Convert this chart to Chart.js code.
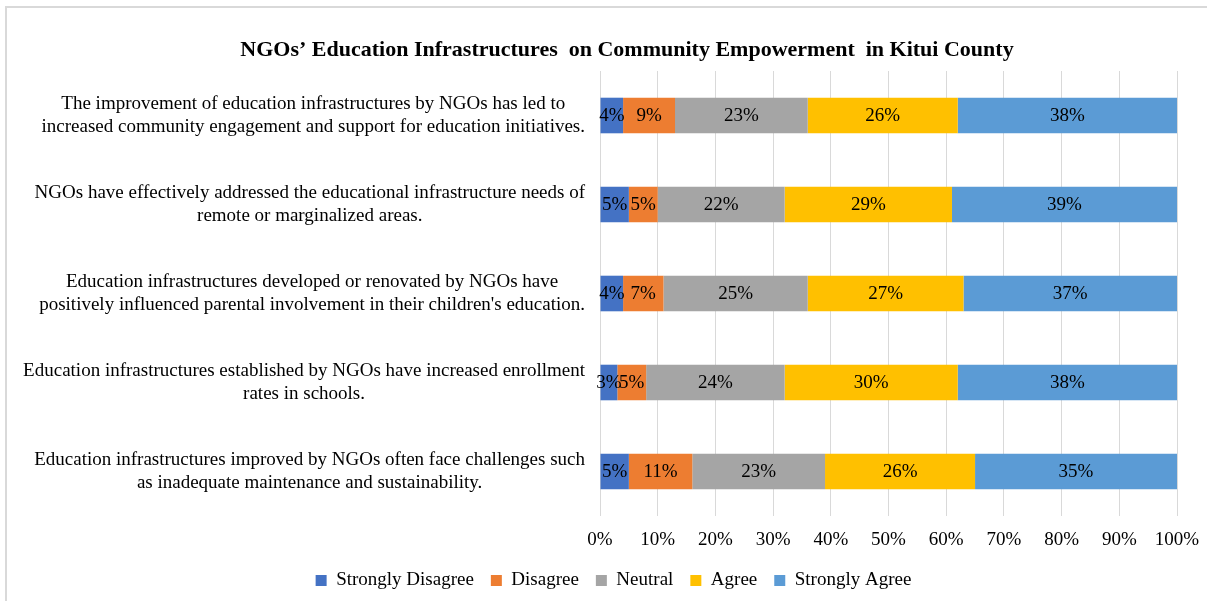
<!DOCTYPE html>
<html>
<head>
<meta charset="utf-8">
<script src="https://cdn.jsdelivr.net/npm/chart.js@4"></script>
<style>
  html, body { margin: 0; padding: 0; overflow: hidden; background: #fff; }
  #wrap { position: relative; width: 1207px; height: 601px; }
  #frame { position: absolute; left: 5px; top: 6px; width: 1220px; height: 620px; border: 2px solid #d9d9d9; box-sizing: border-box; pointer-events: none; }
</style>
</head>
<body>
<div id="wrap">
  <canvas id="chart" width="1207" height="601"></canvas>
  <div id="frame"></div>
</div>
<script>
const chartTitle = "NGOs’ Education Infrastructures  on Community Empowerment  in Kitui County";
const categories = [
  ["The improvement of education infrastructures by NGOs has led to", "increased community engagement and support for education initiatives."],
  ["NGOs have effectively addressed the educational infrastructure needs of", "remote or marginalized areas."],
  ["Education infrastructures developed or renovated by NGOs have", "positively influenced parental involvement in their children's education."],
  ["Education infrastructures established by NGOs have increased enrollment", "rates in schools."],
  ["Education infrastructures improved by NGOs often face challenges such", "as inadequate maintenance and sustainability."]
];
const seriesNames = ["Strongly Disagree", "Disagree", "Neutral", "Agree", "Strongly Agree"];
const stronglyDisagree = [4, 5, 4, 3, 5];
const disagree = [9, 5, 7, 5, 11];
const neutral = [23, 22, 25, 24, 23];
const agree = [26, 29, 27, 30, 26];
const stronglyAgree = [38, 39, 37, 38, 35];
const tickValues = [0, 10, 20, 30, 40, 50, 60, 70, 80, 90, 100];

const colors = ["#4472C4", "#ED7D31", "#A5A5A5", "#FFC000", "#5B9BD5"];
const serif = "'Liberation Serif', 'Times New Roman', serif";

// title drawn by hand so it can sit a bit right of the box centre
const titlePlugin = {
  id: "titleText",
  afterDraw(chart) {
    const ctx = chart.ctx;
    ctx.save();
    ctx.font = "bold 22px " + serif;
    ctx.fillStyle = "#000";
    ctx.textAlign = "center";
    ctx.textBaseline = "middle";
    ctx.fillText(chartTitle, 627, 50);
    ctx.restore();
  }
};

// category labels: each block right aligned, its lines centred on the block
const yLabelPlugin = {
  id: "yLabels",
  afterDraw(chart) {
    const ctx = chart.ctx;
    const yScale = chart.scales.y;
    ctx.save();
    ctx.font = "19px " + serif;
    ctx.fillStyle = "#000";
    ctx.textAlign = "center";
    ctx.textBaseline = "middle";
    categories.forEach((lines, i) => {
      const y = yScale.getPixelForTick(i);
      const w = Math.max(...lines.map(l => ctx.measureText(l).width));
      const cx = 585 - w / 2;
      lines.forEach((l, j) => {
        ctx.fillText(l, cx, y + (j - (lines.length - 1) / 2) * 23);
      });
    });
    ctx.restore();
  }
};

const valueLabelPlugin = {
  id: "valueLabels",
  afterDatasetsDraw(chart) {
    const ctx = chart.ctx;
    ctx.save();
    ctx.font = "19px " + serif;
    ctx.fillStyle = "#000";
    ctx.textAlign = "center";
    ctx.textBaseline = "middle";
    chart.data.datasets.forEach((ds, di) => {
      chart.getDatasetMeta(di).data.forEach((bar, i) => {
        const p = bar.getCenterPoint();
        ctx.fillText(ds.data[i] + "%", p.x, p.y + 1);
      });
    });
    ctx.restore();
  }
};

const seriesData = [stronglyDisagree, disagree, neutral, agree, stronglyAgree];

new Chart(document.getElementById("chart"), {
  type: "bar",
  data: {
    labels: categories,
    datasets: seriesNames.map((name, i) => ({
      label: name,
      data: seriesData[i],
      backgroundColor: colors[i],
      borderWidth: 0,
      barPercentage: 0.4,
      categoryPercentage: 1
    }))
  },
  options: {
    indexAxis: "y",
    responsive: false,
    animation: false,
    layout: { padding: { left: 50, right: 30, top: 71, bottom: 1 } },
    scales: {
      x: {
        stacked: true,
        min: 0,
        max: 100,
        afterBuildTicks: s => { s.ticks = tickValues.map(v => ({ value: v })); },
        afterFit: s => { s.height = 38; s.paddingLeft = 0; s.paddingRight = 0; },
        grid: { color: "#d9d9d9", lineWidth: 1, drawTicks: false },
        border: { display: false },
        ticks: {
          padding: 13,
          color: "#000",
          font: { family: serif, size: 19 },
          callback: v => v + "%"
        }
      },
      y: {
        stacked: true,
        afterFit: s => { s.width = 550; },
        grid: { display: false },
        border: { display: false },
        ticks: { display: false }
      }
    },
    plugins: {
      legend: {
        position: "bottom",
        labels: {
          boxWidth: 11,
          boxHeight: 11,
          padding: 17,
          color: "#000",
          font: { family: serif, size: 19 }
        }
      },
      tooltip: { enabled: false }
    }
  },
  plugins: [titlePlugin, yLabelPlugin, valueLabelPlugin]
});
</script>
</body>
</html>
